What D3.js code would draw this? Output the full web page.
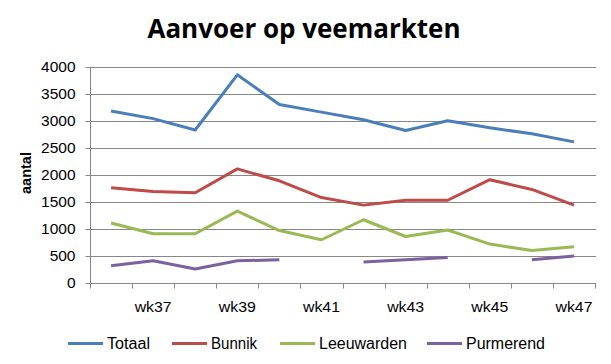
<!DOCTYPE html>
<html><head><meta charset="utf-8">
<script src="https://cdn.jsdelivr.net/npm/d3@7"></script>
<style>body{margin:0;background:#fff}svg{display:block}</style>
</head><body>
<script>
const weeks = ["wk36","wk37","wk38","wk39","wk40","wk41","wk42","wk43","wk44","wk45","wk46","wk47"];
const weekLabels = ["wk37","wk39","wk41","wk43","wk45","wk47"];
const yTicks = [0,500,1000,1500,2000,2500,3000,3500,4000];
const seriesNames = ["Totaal","Bunnik","Leeuwarden","Purmerend"];
const totaal = [3180,3040,2830,3850,3300,3160,3020,2820,3000,2870,2760,2610];
const bunnik = [1760,1690,1670,2110,1890,1580,1440,1530,1530,1910,1730,1440];
const leeuwarden = [1110,910,910,1330,970,800,1170,860,980,720,600,670];
const purmerend = [320,410,260,410,430,null,390,430,470,null,430,500];
const colors = ["#4A7EBB","#BE4B48","#98B954","#7D60A0"];

const W=611,H=364;
const svg=d3.select("body").append("svg").attr("width",W).attr("height",H);
const font="'Liberation Sans', Arial, sans-serif";
const x=d3.scaleBand().domain(weeks).range([90,595]);
const y=d3.scaleLinear().domain([0,4000]).range([283,66.7]);

// gridlines
svg.append("g").selectAll("line").data(yTicks.filter(d=>d>0)).join("line")
  .attr("x1",90).attr("x2",596).attr("y1",d=>Math.round(y(d))+0.5).attr("y2",d=>Math.round(y(d))+0.5)
  .attr("stroke","#878787").attr("stroke-width",1);

// y axis
const ya=svg.append("g").attr("transform","translate(90.5,0)")
  .call(d3.axisLeft(y).tickValues(yTicks).tickSize(5).tickPadding(10).tickFormat(d3.format("d")));
ya.select(".domain").attr("stroke","#878787").attr("d","M0,"+y(4000)+"V"+y(0));
ya.selectAll(".tick line").attr("stroke","#878787");
ya.selectAll(".tick").attr("transform",d=>"translate(0,"+(Math.round(y(d))+0.5)+")");
ya.selectAll("text").attr("font-family",font).attr("font-size",15.5).attr("fill","#000");

// x axis
const xa=svg.append("g").attr("transform","translate(0,"+(Math.round(y(0))+0.5)+")");
xa.append("line").attr("x1",90).attr("x2",596).attr("stroke","#878787");
const bounds=weeks.map(w=>x(w)).concat([x.range()[1]]);
xa.selectAll("line.t").data(bounds).join("line").attr("class","t")
  .attr("x1",d=>Math.round(d)+0.5).attr("x2",d=>Math.round(d)+0.5).attr("y1",0).attr("y2",5).attr("stroke","#878787");
xa.selectAll("text").data(weekLabels).join("text")
  .attr("x",d=>x(d)+x.bandwidth()/2).attr("y",28).attr("text-anchor","middle")
  .attr("font-family",font).attr("font-size",15.5).attr("fill","#000")
  .attr("textLength",37).attr("lengthAdjust","spacingAndGlyphs").text(d=>d);

// lines
const all=[totaal,bunnik,leeuwarden,purmerend];
const line=d3.line().defined(d=>d!=null).x((d,i)=>x(weeks[i])+x.bandwidth()/2).y(d=>y(d));
all.forEach((s,i)=>{
  svg.append("path").datum(s).attr("d",line).attr("fill","none")
    .attr("stroke",colors[i]).attr("stroke-width",3).attr("stroke-linejoin","round");
});

// title
svg.append("text").attr("x",304).attr("y",38).attr("text-anchor","middle")
  .attr("font-family","'Open Sans', sans-serif").attr("font-weight","bold").attr("font-size",27)
  .attr("textLength",313).attr("lengthAdjust","spacingAndGlyphs").text("Aanvoer op veemarkten");

// y label
svg.append("text").attr("transform","translate(31,173) rotate(-90)").attr("text-anchor","middle")
  .attr("font-family",font).attr("font-weight","bold").attr("font-size",14.5).text("aantal");

// legend
const legX=[68,172,280,427];
const legW=[43,46,88,79];
seriesNames.forEach((n,i)=>{
  const g=svg.append("g").attr("transform","translate("+legX[i]+",343.5)");
  g.append("line").attr("x1",0).attr("x2",35).attr("stroke",colors[i]).attr("stroke-width",3);
  g.append("text").attr("x",39).attr("y",5.5).attr("font-family",font).attr("font-size",16).attr("fill","#000")
    .attr("textLength",legW[i]).attr("lengthAdjust","spacingAndGlyphs").text(n);
});
</script>
</body></html>
